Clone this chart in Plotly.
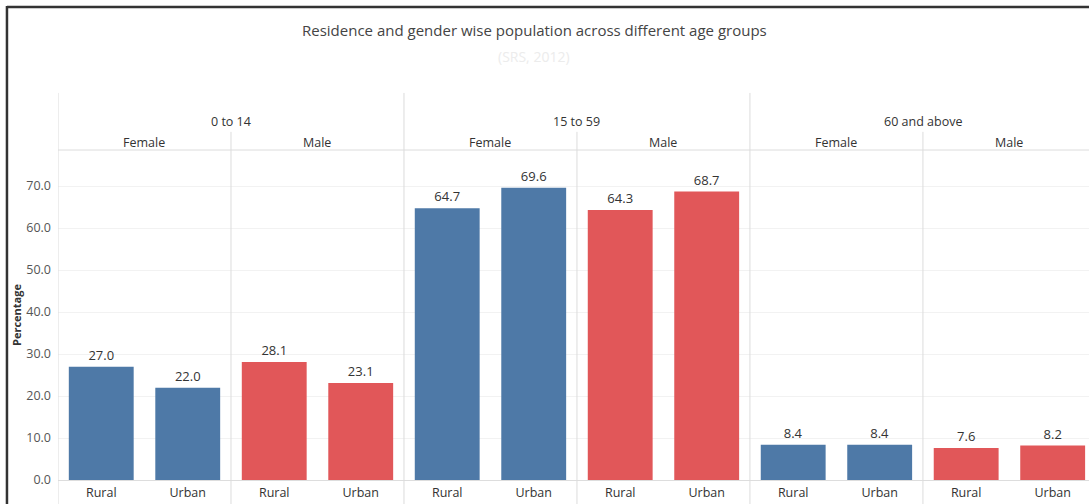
import plotly.graph_objects as go

age_groups = ["0 to 14", "15 to 59", "60 and above"]
genders = ["Female", "Male"]
residences = ["Rural", "Urban"]
female_values = [27.0, 22.0, 64.7, 69.6, 8.4, 8.4]
male_values = [28.1, 23.1, 64.3, 68.7, 7.6, 8.2]
y_ticks = [0, 10, 20, 30, 40, 50, 60, 70]

title_text = "Residence and gender wise population across different age groups"
subtitle_text = "(SRS, 2012)"

colors = {"Female": "#4E79A7", "Male": "#E15759"}
FONT = "Open Sans"
LINE = "#dcdcdc"

def pos(a, g, r):
    return a * 4 + g * 2 + r

series = {"Female": female_values, "Male": male_values}
fig = go.Figure()
tickvals, ticktext = [], []
for gi, g in enumerate(genders):
    xs, ys = [], []
    for ai in range(len(age_groups)):
        for ri, r in enumerate(residences):
            xs.append(pos(ai, gi, ri))
            ys.append(series[g][ai * 2 + ri])
    fig.add_trace(go.Bar(
        x=xs, y=ys, name=g, width=0.75,
        marker=dict(color=colors[g], line=dict(width=0)),
        text=[f"{v:.1f}" for v in ys], textposition="outside",
        textfont=dict(family=FONT, size=13, color="#333333"),
        cliponaxis=False, showlegend=False,
    ))
for ai in range(len(age_groups)):
    for gi in range(len(genders)):
        for ri, r in enumerate(residences):
            tickvals.append(pos(ai, gi, ri))
            ticktext.append(r)

n_cat = len(age_groups) * len(genders) * len(residences)

shapes = []
shapes.append(dict(type="line", xref="x", yref="paper", x0=-0.5, x1=-0.5,
                    y0=-0.075, y1=1.173, line=dict(color=LINE, width=1)))
for ai in range(1, len(age_groups)):
    xv = ai * 4 - 0.5
    shapes.append(dict(type="line", xref="x", yref="paper", x0=xv, x1=xv,
                        y0=-0.075, y1=1.173, line=dict(color=LINE, width=1)))
for ai in range(len(age_groups)):
    xv = ai * 4 + 1.5
    shapes.append(dict(type="line", xref="x", yref="paper", x0=xv, x1=xv,
                        y0=-0.075, y1=1.055, line=dict(color=LINE, width=1)))
shapes.append(dict(type="line", xref="paper", yref="paper", x0=0, x1=1,
                    y0=1, y1=1, line=dict(color=LINE, width=1)))
# outer frame (left & top)
shapes.append(dict(type="line", xref="paper", yref="paper", x0=-0.0495, x1=-0.0495,
                    y0=-0.1, y1=1.436, line=dict(color="#333333", width=2.5)))
shapes.append(dict(type="line", xref="paper", yref="paper", x0=-0.0495, x1=1.02,
                    y0=1.433, y1=1.433, line=dict(color="#333333", width=2.5)))

annotations = []
for ai, a in enumerate(age_groups):
    annotations.append(dict(x=ai * 4 + 1.5, y=1.085, xref="x", yref="paper",
                            xanchor="center", yanchor="middle",
                            text=a, showarrow=False,
                            font=dict(family=FONT, size=12.5, color="#333333")))
    for gi, g in enumerate(genders):
        annotations.append(dict(x=ai * 4 + gi * 2 + 0.5, y=1.024, xref="x", yref="paper",
                                xanchor="center", yanchor="middle",
                                text=g, showarrow=False,
                                font=dict(family=FONT, size=12.5, color="#333333")))
annotations.append(dict(x=0.462, y=1.364, xref="paper", yref="paper", text=title_text,
                        xanchor="center", yanchor="middle",
                        showarrow=False, font=dict(family=FONT, size=15, color="#444444")))
annotations.append(dict(x=0.462, y=1.282, xref="paper", yref="paper", text=subtitle_text,
                        xanchor="center", yanchor="middle",
                        showarrow=False, font=dict(family=FONT, size=14, color="#ececec")))

fig.update_layout(
    width=1089, height=504,
    margin=dict(l=58, r=0, t=150, b=24, pad=0),
    paper_bgcolor="white", plot_bgcolor="white",
    barmode="overlay",
    shapes=shapes, annotations=annotations,
    xaxis=dict(range=[-0.5, n_cat - 0.58], tickmode="array", tickvals=tickvals,
               ticktext=ticktext, showgrid=False, zeroline=False, showline=False,
               ticks="", ticklabelstandoff=3,
               tickfont=dict(family=FONT, size=12.5, color="#333333")),
    yaxis=dict(range=[0, 78.6], tickmode="array", tickvals=y_ticks,
               ticktext=[f"{v:.1f}" for v in y_ticks],
               showgrid=True, gridcolor="#f2f2f2", gridwidth=1,
               zeroline=True, zerolinecolor="#dddddd", zerolinewidth=1,
               showline=False, ticks="", ticklabelstandoff=6,
               tickfont=dict(family=FONT, size=12.5, color="#555555"),
               title=dict(text="<b>Percentage</b>", standoff=2,
                          font=dict(family=FONT, size=11, color="#333333"))),
)

fig.write_html("out.html")
